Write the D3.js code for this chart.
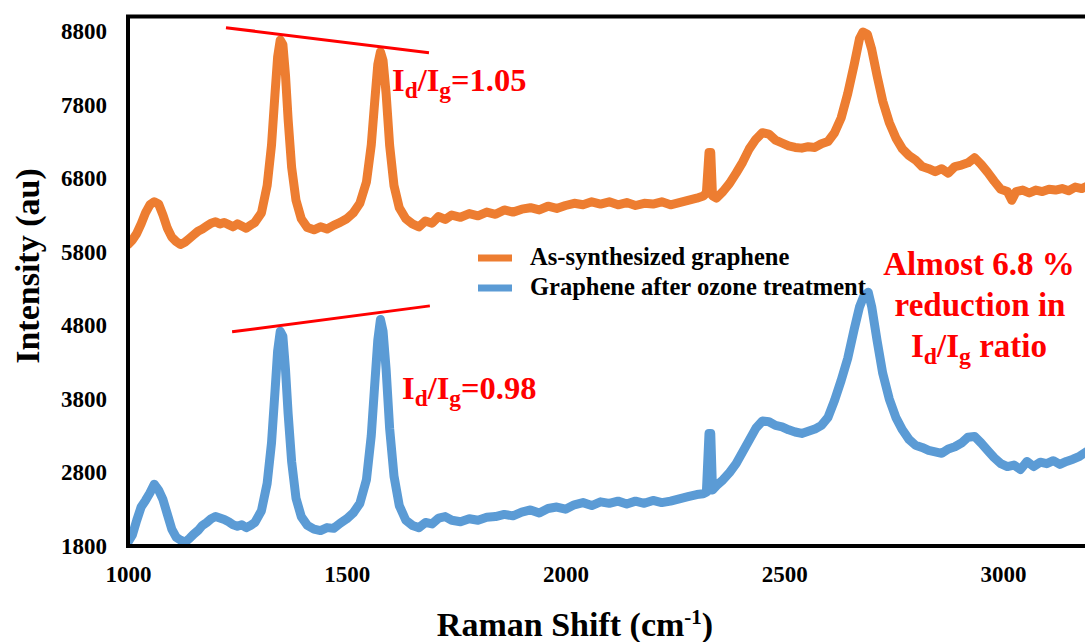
<!DOCTYPE html>
<html>
<head>
<meta charset="utf-8">
<script src="https://cdn.jsdelivr.net/npm/d3@7/dist/d3.min.js"></script>
<style>
html,body{margin:0;padding:0;background:#fff;overflow:hidden;}
svg{display:block;}
svg text{font-family:"Liberation Serif","Tinos","Times New Roman","Nimbus Roman","DejaVu Serif",serif;font-weight:bold;}
</style>
</head>
<body>
<svg id="chart" width="1085" height="642"></svg>
<script>
// ---- data ----
const seriesNames = ["As-synthesized graphene", "Graphene after ozone treatment"];
const seriesColors = ["#ED7D31", "#5B9BD5"];
const xTicks = [1000, 1500, 2000, 2500, 3000];
const yTicks = [1800, 2800, 3800, 4800, 5800, 6800, 7800, 8800];

const shiftAs = [1000,1010,1020,1030,1040,1050,1060,1070,1080,1090,1100,1110,1120,1130,1140,1150,1160,1170,1180,1190,1200,1210,1220,1230,1240,1250,1260,1270,1280,1290,1305,1318,1328,1336,1342,1348,1354,1360,1366,1374,1384,1396,1410,1425,1440,1455,1470,1485,1500,1515,1530,1545,1556,1564,1571,1577,1583,1590,1598,1608,1620,1635,1650,1665,1680,1695,1710,1725,1740,1760,1780,1800,1820,1840,1860,1880,1900,1920,1940,1960,1980,2000,2020,2040,2060,2080,2100,2120,2140,2160,2180,2200,2220,2240,2260,2280,2300,2315,2322,2328,2332,2336,2345,2360,2375,2390,2405,2420,2435,2450,2465,2480,2495,2510,2525,2540,2555,2570,2585,2600,2615,2630,2645,2660,2672,2680,2690,2700,2712,2725,2740,2755,2770,2785,2800,2815,2830,2845,2860,2875,2890,2905,2920,2935,2950,2965,2980,2995,3010,3020,3030,3045,3060,3075,3090,3105,3120,3135,3150,3165,3180,3195];
const intensityAs = [5900,5960,6050,6180,6330,6440,6480,6450,6300,6120,6000,5940,5900,5930,5980,6030,6080,6110,6150,6190,6210,6180,6200,6170,6140,6180,6150,6120,6160,6200,6330,6700,7250,7950,8450,8680,8620,8200,7600,6950,6500,6250,6130,6100,6140,6110,6160,6200,6250,6330,6460,6750,7250,7850,8350,8520,8400,7950,7250,6700,6400,6250,6180,6140,6220,6190,6280,6240,6300,6270,6320,6290,6340,6310,6370,6340,6380,6400,6370,6420,6390,6430,6460,6440,6480,6450,6480,6440,6470,6430,6460,6450,6480,6440,6470,6500,6530,6560,6600,7150,7150,6560,6530,6620,6730,6870,7020,7200,7330,7420,7400,7320,7280,7240,7220,7210,7230,7220,7270,7300,7420,7620,7950,8350,8700,8790,8760,8550,8200,7850,7560,7350,7200,7110,7050,6960,6930,6890,6930,6870,6960,6980,7010,7080,6990,6880,6760,6650,6620,6500,6620,6640,6600,6640,6620,6650,6640,6660,6630,6680,6660,6700];

const shiftOz = [1000,1010,1020,1030,1040,1050,1060,1070,1080,1090,1100,1110,1120,1130,1140,1150,1160,1170,1180,1190,1200,1210,1220,1230,1240,1250,1260,1270,1280,1290,1305,1318,1328,1336,1342,1348,1354,1360,1366,1374,1384,1396,1410,1425,1440,1455,1470,1485,1500,1515,1530,1545,1556,1564,1571,1577,1583,1590,1598,1608,1620,1635,1650,1665,1680,1695,1710,1725,1740,1760,1780,1800,1820,1840,1860,1880,1900,1920,1940,1960,1980,2000,2020,2040,2060,2080,2100,2120,2140,2160,2180,2200,2220,2240,2260,2280,2300,2315,2322,2328,2332,2336,2345,2360,2375,2390,2405,2420,2435,2450,2465,2480,2495,2510,2525,2540,2555,2570,2585,2600,2615,2630,2645,2660,2672,2682,2692,2700,2712,2725,2740,2755,2770,2785,2800,2815,2830,2845,2860,2875,2890,2905,2920,2935,2950,2965,2980,2995,3010,3025,3040,3055,3070,3085,3100,3115,3130,3145,3160,3175,3190];
const intensityOz = [1850,1950,2150,2330,2420,2520,2640,2560,2430,2230,2030,1920,1880,1850,1900,1960,2010,2080,2120,2170,2200,2180,2160,2130,2090,2070,2090,2050,2080,2120,2280,2650,3200,3900,4450,4720,4650,4200,3600,2950,2450,2200,2080,2030,2010,2050,2040,2110,2170,2250,2380,2700,3300,4000,4600,4880,4720,4200,3400,2750,2350,2150,2080,2050,2120,2100,2180,2200,2150,2130,2170,2150,2190,2200,2230,2210,2260,2290,2250,2310,2330,2300,2360,2390,2350,2400,2380,2410,2370,2410,2380,2420,2390,2410,2440,2470,2500,2510,2530,3330,3330,2560,2620,2700,2800,2920,3080,3240,3400,3500,3490,3440,3420,3380,3350,3330,3360,3390,3440,3550,3780,4050,4350,4750,5050,5200,5250,5050,4600,4150,3800,3550,3380,3250,3170,3140,3100,3080,3060,3120,3150,3200,3280,3290,3200,3100,3000,2920,2880,2900,2840,2950,2880,2940,2920,2960,2910,2950,2980,3020,3080];

// trend-line annotations (data coordinates)
const trendAs = [[1224, 8848], [1688, 8507]];
const trendOz = [[1238, 4712], [1690, 5065]];
const ratioLabels = ["1.05", "0.98"];

// ---- layout ----
const svg = d3.select("#chart");
const plotLeft = 128, plotTop = 16.5, plotBottom = 546;
const x = d3.scaleLinear().domain([1000, 3500]).range([plotLeft, plotLeft + 2500 * 0.4375]);
const y = d3.scaleLinear().domain([1800, 9000]).range([plotBottom, plotTop]);
const plotRight = x(3500);

svg.append("defs").append("clipPath").attr("id", "clip")
  .append("rect").attr("x", plotLeft).attr("y", plotTop).attr("width", plotRight - plotLeft).attr("height", plotBottom - plotTop);

// series
const line = d3.line().x(d => x(d[0])).y(d => y(d[1]));
const seriesData = [
  d3.zip(shiftAs, intensityAs),
  d3.zip(shiftOz, intensityOz)
];
const g = svg.append("g").attr("clip-path", "url(#clip)");
seriesData.forEach((data, i) => {
  g.append("path").datum(data)
    .attr("d", line)
    .attr("fill", "none")
    .attr("stroke", seriesColors[i])
    .attr("stroke-width", 9)
    .attr("stroke-linejoin", "round")
    .attr("stroke-linecap", "round");
});

// frame
svg.append("rect").attr("x", plotLeft).attr("y", plotTop).attr("width", plotRight - plotLeft).attr("height", plotBottom - plotTop)
  .attr("fill", "none").attr("stroke", "#000").attr("stroke-width", 4);

// axes
const fmt = d3.format("d");
const yAxis = d3.axisLeft(y).tickValues(yTicks).tickFormat(fmt).tickSize(0).tickPadding(21);
const yg = svg.append("g").attr("transform", `translate(${plotLeft},0)`).call(yAxis);
yg.attr("font-family", null);
yg.select(".domain").remove();
yg.selectAll("text").attr("font-size", 23).attr("fill", "#000");

const xAxis = d3.axisBottom(x).tickValues(xTicks).tickFormat(fmt).tickSize(0).tickPadding(20);
const xg = svg.append("g").attr("transform", `translate(0,${plotBottom})`).call(xAxis);
xg.attr("font-family", null);
xg.select(".domain").remove();
xg.selectAll("text").attr("font-size", 23).attr("fill", "#000");

// axis titles
const xt = svg.append("text").attr("x", 575).attr("y", 636).attr("text-anchor", "middle")
  .attr("font-size", 34).attr("fill", "#000");
xt.append("tspan").text("Raman Shift (cm");
xt.append("tspan").attr("font-size", 21).attr("dy", -12).text("-1");
xt.append("tspan").attr("dy", 12).text(")");

svg.append("text").attr("transform", "translate(39,266) rotate(-90)").attr("text-anchor", "middle")
  .attr("font-size", 34).attr("fill", "#000").text("Intensity (au)");

// trend lines
[trendAs, trendOz].forEach(t => {
  svg.append("line")
    .attr("x1", x(t[0][0])).attr("y1", y(t[0][1]))
    .attr("x2", x(t[1][0])).attr("y2", y(t[1][1]))
    .attr("stroke", "#FF0000").attr("stroke-width", 3);
});

// ratio labels
function ratioText(px, py, val, size, anchor) {
  const t = svg.append("text").attr("x", px).attr("y", py).attr("font-size", size).attr("fill", "#FF0000")
    .attr("text-anchor", anchor || "start");
  t.append("tspan").text("I");
  t.append("tspan").attr("font-size", size * 0.72).attr("dy", 7).text("d");
  t.append("tspan").attr("dy", -7).text("/I");
  t.append("tspan").attr("font-size", size * 0.72).attr("dy", 7).text("g");
  t.append("tspan").attr("dy", -7).text(val);
  return t;
}
ratioText(392, 91, "=" + ratioLabels[0], 32.5);
ratioText(402, 399, "=" + ratioLabels[1], 32.5);

// reduction note
const note = svg.append("text").attr("text-anchor", "middle").attr("font-size", 33).attr("fill", "#FF0000");
note.append("tspan").attr("x", 979).attr("y", 275).text("Almost 6.8 %");
note.append("tspan").attr("x", 980).attr("y", 316).text("reduction in");
ratioText(979, 357, " ratio", 33, "middle");

// legend
const lg = svg.append("g");
seriesNames.forEach((name, i) => {
  const yy = 258 + i * 30;
  lg.append("line").attr("x1", 478).attr("x2", 512).attr("y1", yy).attr("y2", yy)
    .attr("stroke", seriesColors[i]).attr("stroke-width", 7);
  lg.append("text").attr("x", 530).attr("y", yy + 7).attr("font-size", 24.5).attr("fill", "#000").text(name);
});
</script>
</body>
</html>
